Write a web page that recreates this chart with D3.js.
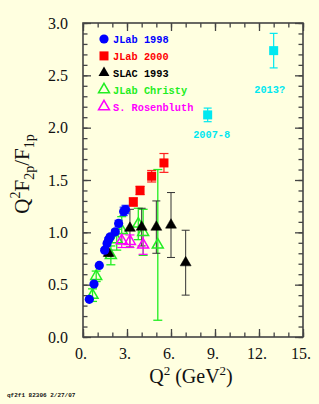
<!DOCTYPE html>
<html>
<head>
<meta charset="utf-8">
<script src="https://cdn.jsdelivr.net/npm/d3@7"></script>
<style>
  html, body { margin: 0; padding: 0; background: #ffffe0; }
  svg { display: block; }
</style>
</head>
<body>
<div id="chart"></div>
<script>
// JLab 1998 (blue circles)
const jlab98Q = [0.43, 0.75, 1.11, 1.48, 1.64, 1.75, 1.86, 2.2, 2.43, 2.77, 2.9];
const jlab98V = [0.36, 0.506, 0.684, 0.83, 0.894, 0.935, 0.957, 1.005, 1.085, 1.20, 1.218];
const jlab98E = [0.01, 0.01, 0.01, 0.015, 0.015, 0.015, 0.02, 0.02, 0.03, 0.04, 0.04];
// JLab 2000 (red squares)
const jlab00Q = [3.43, 3.89, 4.68, 5.52];
const jlab00V = [1.29, 1.40, 1.536, 1.663];
const jlab00E = [0.04, 0.04, 0.055, 0.09];
// SLAC 1993 (black triangles)
const slacQ = [1.75, 3.2, 4.0, 5.0, 6.0, 7.0];
const slacV = [0.80, 1.04, 1.05, 1.05, 1.07, 0.71];
const slacE = [0.03, 0.18, 0.18, 0.25, 0.31, 0.31];
// JLab Christy (open green triangles)
const christyQ = [0.65, 0.9, 1.9, 2.3, 2.64, 3.77, 4.1, 5.1];
const christyV = [0.40, 0.58, 0.78, 0.93, 1.02, 1.08, 1.0, 0.88];
const christyE = [0.06, 0.05, 0.09, 0.1, 0.13, 0.15, 0.22, 0.72];
// S. Rosenbluth (open magenta triangles)
const rosenQ = [2.64, 3.2, 4.1];
const rosenV = [0.92, 0.915, 0.88];
const rosenE = [0.065, 0.06, 0.09];
// projected points (cyan squares)
const projQ = [8.5, 13.0];
const projV = [2.122, 2.736];
const projE = [0.065, 0.165];
const projLabels = ["2007-8", "2013?"];

const legendNames = ["JLab 1998", "JLab 2000", "SLAC 1993", "JLab Christy", "S. Rosenbluth"];
const xMajor = [0, 3, 6, 9, 12, 15];
const yMajor = [0, 0.5, 1.0, 1.5, 2.0, 2.5, 3.0];

const W = 319, H = 404;
const svg = d3.select("#chart").append("svg")
  .attr("width", W).attr("height", H);

svg.append("rect").attr("width", W).attr("height", H).attr("fill", "#ffffe0");

const x = d3.scaleLinear().domain([0, 15]).range([83, 303]);
const y = d3.scaleLinear().domain([0, 3]).range([337, 23]);

const frameColor = "#444";
const serif = "'Liberation Serif', 'DejaVu Serif', serif";
const mono = "'Liberation Mono', 'DejaVu Sans Mono', monospace";

// minor ticks
const xMinor = d3.range(0, 15.01, 1);
const yMinor = d3.range(0, 3.001, 0.1);

function styleAxis(g) {
  g.select(".domain").remove();
  g.selectAll(".tick line").attr("stroke", frameColor).attr("stroke-width", 1.3);
}

// bottom
svg.append("g").attr("transform", `translate(0,${y(0)})`)
  .call(d3.axisBottom(x).tickValues(xMinor).tickSize(-4.5).tickFormat(""))
  .call(styleAxis);
svg.append("g").attr("transform", `translate(0,${y(0)})`)
  .call(d3.axisBottom(x).tickValues(xMajor).tickSize(-8).tickPadding(11).tickFormat(d => d + "."))
  .call(styleAxis)
  .call(g => g.selectAll("text")
    .attr("font-family", serif).attr("font-size", 16).attr("fill", "#111")
    .attr("dx", "-0.15em"));
// top
svg.append("g").attr("transform", `translate(0,${y(3)})`)
  .call(d3.axisTop(x).tickValues(xMinor).tickSize(-4.5).tickFormat(""))
  .call(styleAxis);
svg.append("g").attr("transform", `translate(0,${y(3)})`)
  .call(d3.axisTop(x).tickValues(xMajor).tickSize(-8).tickFormat(""))
  .call(styleAxis);
// left
svg.append("g").attr("transform", `translate(${x(0)},0)`)
  .call(d3.axisLeft(y).tickValues(yMinor).tickSize(-4.5).tickFormat(""))
  .call(styleAxis);
svg.append("g").attr("transform", `translate(${x(0)},0)`)
  .call(d3.axisLeft(y).tickValues(yMajor).tickSize(-8).tickPadding(15).tickFormat(d3.format(".1f")))
  .call(styleAxis)
  .call(g => g.selectAll("text")
    .attr("font-family", serif).attr("font-size", 16).attr("fill", "#111"));
// right
svg.append("g").attr("transform", `translate(${x(15)},0)`)
  .call(d3.axisRight(y).tickValues(yMinor).tickSize(-4.5).tickFormat(""))
  .call(styleAxis);
svg.append("g").attr("transform", `translate(${x(15)},0)`)
  .call(d3.axisRight(y).tickValues(yMajor).tickSize(-8).tickFormat(""))
  .call(styleAxis);

// frame
svg.append("rect")
  .attr("x", x(0)).attr("y", y(3))
  .attr("width", x(15) - x(0)).attr("height", y(0) - y(3))
  .attr("fill", "none").attr("stroke", frameColor).attr("stroke-width", 1.6);

// helpers
function zip(q, v, e) { return q.map((d, i) => ({ q: d, v: v[i], e: e[i] })); }

function errorBars(data, color, cap, width) {
  const g = svg.append("g").attr("stroke", color).attr("stroke-width", width || 1.2).attr("fill", "none");
  data.forEach(d => {
    const cx = x(d.q);
    g.append("line").attr("x1", cx).attr("x2", cx).attr("y1", y(d.v - d.e)).attr("y2", y(d.v + d.e));
    [d.v - d.e, d.v + d.e].forEach(t => {
      g.append("line").attr("x1", cx - cap).attr("x2", cx + cap).attr("y1", y(t)).attr("y2", y(t));
    });
  });
}

const triPath = d3.symbol().type(d3.symbolTriangle).size(52);

function triangles(data, fill, stroke, sw) {
  svg.append("g").selectAll("path").data(data).join("path")
    .attr("transform", d => `translate(${x(d.q)},${y(d.v)})`)
    .attr("d", triPath)
    .attr("fill", fill).attr("stroke", stroke).attr("stroke-width", sw);
}

function squares(data, color, s) {
  svg.append("g").selectAll("rect").data(data).join("rect")
    .attr("x", d => x(d.q) - s / 2).attr("y", d => y(d.v) - s / 2)
    .attr("width", s).attr("height", s).attr("fill", color);
}

const christy = zip(christyQ, christyV, christyE);
const rosen = zip(rosenQ, rosenV, rosenE);
const slac = zip(slacQ, slacV, slacE);
const jlab00 = zip(jlab00Q, jlab00V, jlab00E);
const jlab98 = zip(jlab98Q, jlab98V, jlab98E);
const proj = zip(projQ, projV, projE);

errorBars(christy, "#22ee22", 4.5, 1.3);
errorBars(slac, "#333", 4, 1);
errorBars(rosen, "#ff00ff", 4.5, 1.2);
errorBars(jlab00, "#ff2020", 4.5, 1.2);
errorBars(jlab98, "#2233ff", 4, 1.2);
errorBars(proj, "#00e8f0", 4, 1.2);

triangles(christy, "none", "#22ee22", 1.5);
triangles(rosen, "none", "#ff00ff", 1.5);
triangles(slac, "#000", "#000", 0.5);
squares(jlab00, "#ff0000", 9);

svg.append("g").selectAll("circle").data(jlab98).join("circle")
  .attr("cx", d => x(d.q)).attr("cy", d => y(d.v)).attr("r", 4.6)
  .attr("fill", "#0000ff");

squares(proj, "#00e8f0", 9);

svg.append("g").selectAll("text").data(proj).join("text")
  .attr("x", d => x(d.q) + (d.q > 10 ? -4 : 4))
  .attr("y", (d, i) => i === 0 ? 138 : 93)
  .attr("text-anchor", "middle")
  .attr("font-family", mono).attr("font-weight", "bold").attr("font-size", 10.3)
  .attr("fill", "#00e8f0")
  .text((d, i) => projLabels[i]);

// legend
const legendColors = ["#0000ff", "#ff0000", "#000", "#22ee22", "#ff00ff"];
const legend = svg.append("g");
legendNames.forEach((name, i) => {
  const ly = 39 + i * 16.9;
  const g = legend.append("g").attr("transform", `translate(104,${ly})`);
  if (i === 0) g.append("circle").attr("r", 4.6).attr("fill", legendColors[i]);
  else if (i === 1) g.append("rect").attr("x", -4.5).attr("y", -4.5).attr("width", 9).attr("height", 9).attr("fill", legendColors[i]);
  else if (i === 2) g.append("path").attr("d", triPath).attr("fill", "#000");
  else g.append("path").attr("d", triPath).attr("fill", "none").attr("stroke", legendColors[i]).attr("stroke-width", 1.5);
  g.append("text").attr("x", 9).attr("y", 4)
    .attr("font-family", mono).attr("font-weight", "bold").attr("font-size", 10.3)
    .attr("fill", legendColors[i]).text(name);
});

// axis titles
const xt = svg.append("text").attr("x", 191).attr("y", 383)
  .attr("text-anchor", "middle").attr("font-family", serif).attr("font-size", 20).attr("fill", "#111");
xt.append("tspan").text("Q");
xt.append("tspan").attr("font-size", 13).attr("dy", -8).text("2");
xt.append("tspan").attr("dy", 8).text(" (GeV");
xt.append("tspan").attr("font-size", 13).attr("dy", -8).text("2");
xt.append("tspan").attr("dy", 8).text(")");

const yt = svg.append("text").attr("transform", "translate(29,174) rotate(-90)")
  .attr("text-anchor", "middle").attr("font-family", serif).attr("font-size", 21).attr("fill", "#111");
yt.append("tspan").text("Q");
yt.append("tspan").attr("font-size", 14).attr("dy", -9).text("2");
yt.append("tspan").attr("dy", 9).text("F");
yt.append("tspan").attr("font-size", 14).attr("dy", 5).text("2p");
yt.append("tspan").attr("dy", -5).text("/F");
yt.append("tspan").attr("font-size", 14).attr("dy", 5).text("1p");

// footnote
svg.append("text").attr("x", 7).attr("y", 397)
  .attr("font-family", mono).attr("font-weight", "bold").attr("font-size", 6)
  .attr("fill", "#111").text("qf2f1 82306 2/27/07");
</script>
</body>
</html>
